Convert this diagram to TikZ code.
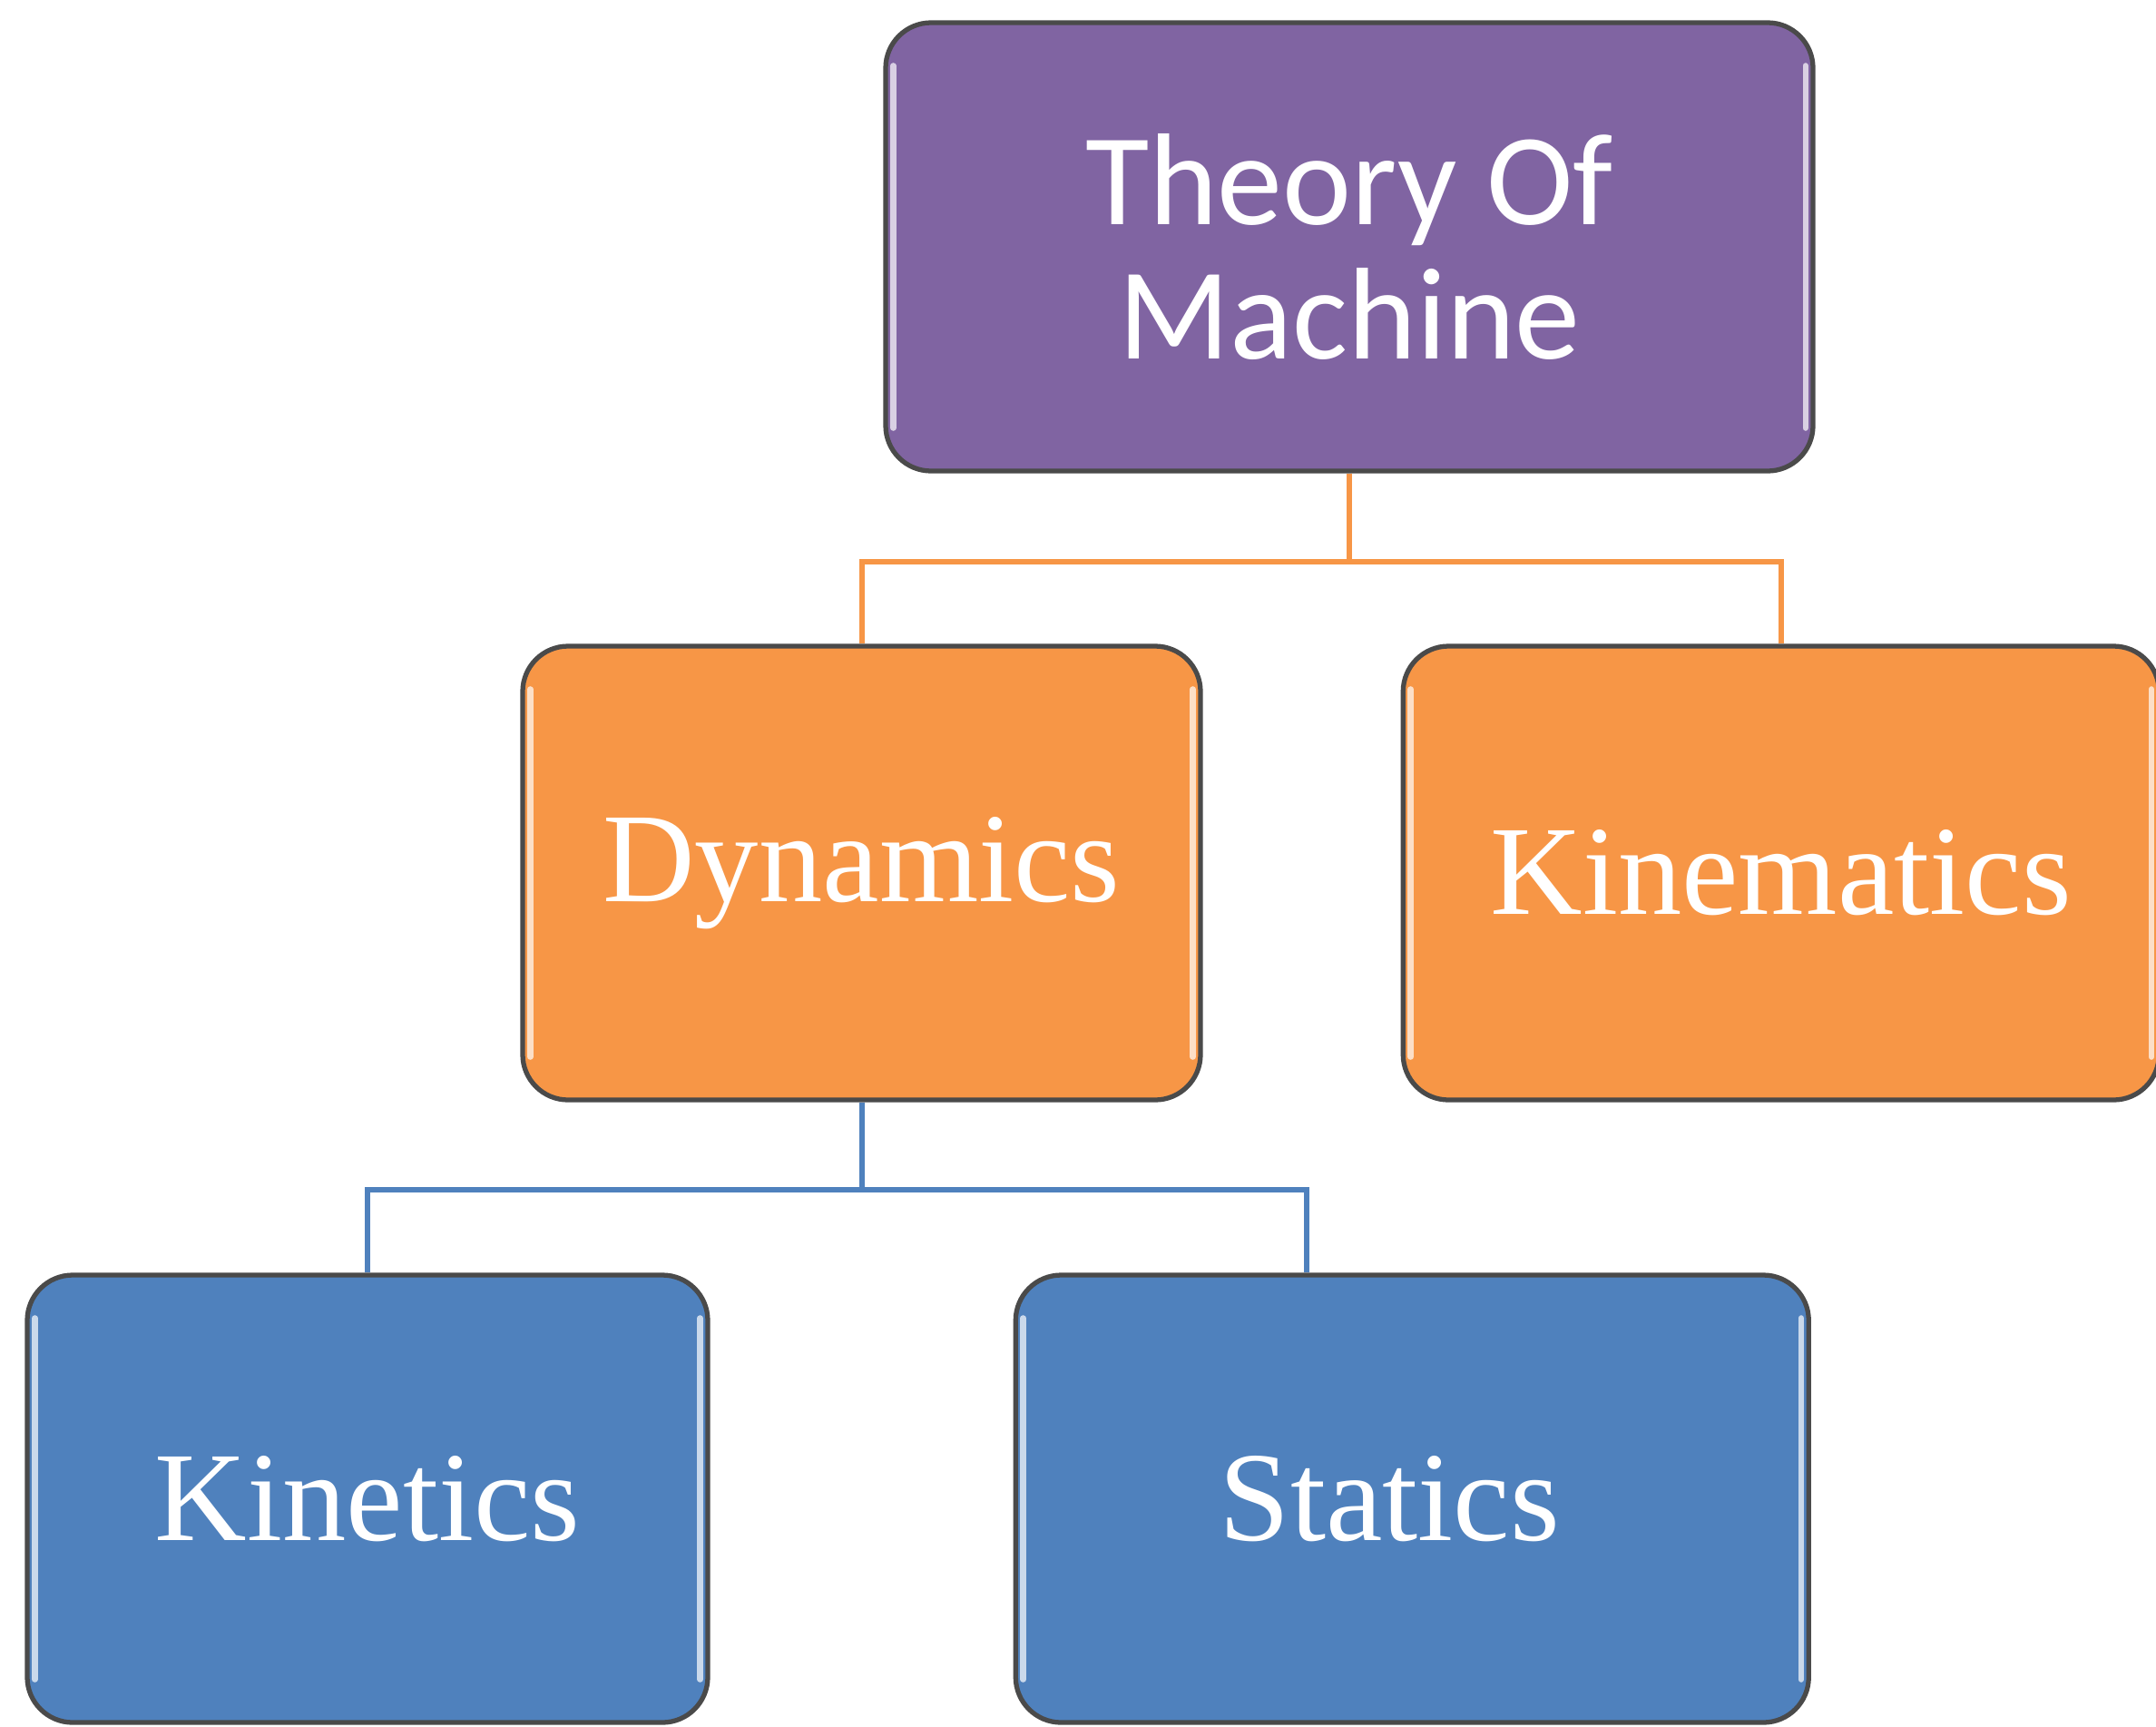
\documentclass[tikz,border=0pt]{standalone}
\usepackage{fontspec}
\setmainfont{Liberation Serif}
\newfontfamily\calibri{Carlito}
\usetikzlibrary{calc}
\usetikzlibrary{positioning}
\definecolor{tmpurple}{HTML}{8064A2}
\definecolor{tmorange}{HTML}{F79646}
\definecolor{tmblue}{HTML}{4F81BD}
\definecolor{tmedge}{HTML}{4A4A4A}

\begin{document}
\begin{tikzpicture}
\tikzstyle{card}=[draw=tmedge, line width=1.5pt, rounded corners=0.5cm,
  text=white, align=center, inner sep=0pt, font=\fontsize{40}{41}\selectfont]
\tikzstyle{link}=[line width=1.7pt]
\tikzstyle{gloss}=[white, line width=1.8pt, opacity=0.7, line cap=round]
	\useasboundingbox (0,0) rectangle (23.76,-19.02);
	\node [card, fill=tmpurple, minimum width = 10.22cm, minimum height = 4.94cm,
	font=\calibri\fontsize{41}{42}\selectfont] (theory) at (14.87,-2.72)
	{Theory Of\\Machine};
	\node [card, fill=tmorange, minimum width = 7.47cm, minimum height = 5cm]
	(dynamics) at (9.495,-9.62) {Dynamics};
	\node [card, fill=tmorange, minimum width = 8.33cm, minimum height = 5cm,
	right = 2.18cm of dynamics] (kinematics) {Kinematics};
	\node [card, fill=tmblue, minimum width = 7.5cm, minimum height = 4.93cm]
	(kinetics) at (4.05,-16.515) {Kinetics};
	\node [card, fill=tmblue, minimum width = 8.74cm, minimum height = 4.93cm,
	right = 3.34cm of kinetics] (statics) {Statics\hspace{0.5cm}};
	
	% gloss
	\foreach \n in {theory,dynamics,kinematics,kinetics,statics}
	{
		\draw [gloss] ($(\n.north west)+(0.11,-0.5)$) -- ($(\n.south west)+(0.11,0.5)$);
		\draw [gloss] ($(\n.north east)+(-0.11,-0.5)$) -- ($(\n.south east)+(-0.11,0.5)$);
	}
	
	% links
	\coordinate (j1) at ($(theory.south)+(0,-0.97)$);
	\draw [link, tmorange] (theory.south) -- (j1) -| (dynamics.north);
	\draw [link, tmorange] (j1) -| (kinematics.north);
	
	% links
	\coordinate (j2) at ($(dynamics.south)+(0,-0.96)$);
	\coordinate (s1) at ($(statics.north west)+(3.23,0)$);
	\draw [link, tmblue] (dynamics.south) -- (j2) -| (kinetics.north);
	\draw [link, tmblue] (j2) -| (s1);
\end{tikzpicture}
\end{document}
